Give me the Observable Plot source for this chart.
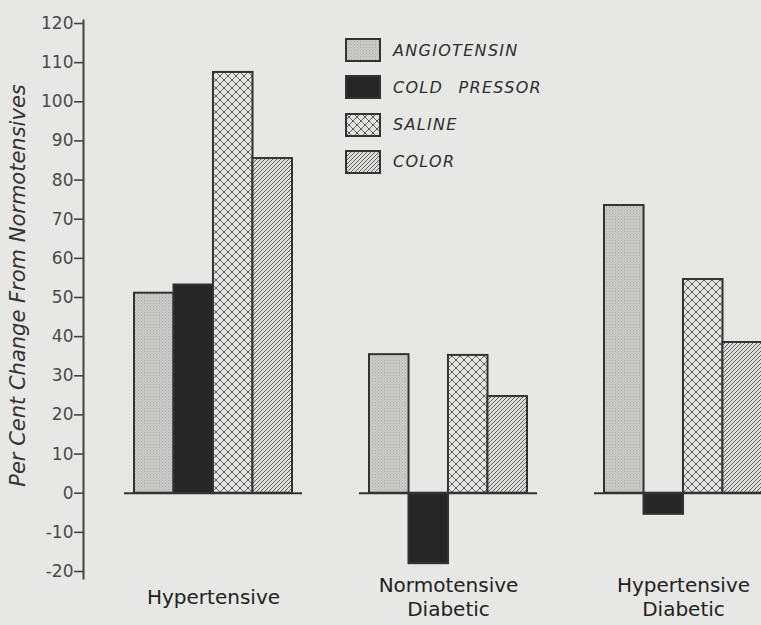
<!DOCTYPE html>
<html>
<head>
<meta charset="utf-8">
<script src="https://cdn.jsdelivr.net/npm/d3@7"></script>
<script src="https://cdn.jsdelivr.net/npm/@observablehq/plot@0.6"></script>
<style>
  body { margin: 0; background: #e7e7e5; }
  #wrap { position: relative; width: 761px; height: 625px; overflow: hidden; }
  #legend { position: absolute; left: 0; top: 0; font-family: "DejaVu Sans", sans-serif; font-style: italic; font-size: 16px; color: #2e2e2e; letter-spacing: 1.3px; word-spacing: 9px; }
  .row { position: absolute; left: 345px; display: flex; align-items: center; white-space: nowrap; }
  .row svg { display: block; margin-right: 12px; }
  g[aria-label="ytitle"] text { word-spacing: 7px; letter-spacing: 0.3px; }
</style>
</head>
<body>
<div id="wrap">
  <div id="chart"></div>
  <div id="legend"></div>
</div>
<script>
// ---- data ----
const groups = ["Hypertensive", "Normotensive\nDiabetic", "Hypertensive\nDiabetic"];
const seriesNames = ["ANGIOTENSIN", "COLD PRESSOR", "SALINE", "COLOR"];
const angiotensin = [51.1, 35.4, 73.5];
const coldPressor = [53.2, -18.0, -5.4];
const saline = [107.5, 35.2, 54.6];
const colorTest = [85.5, 24.7, 38.5];
const yTicks = [-20, -10, 0, 10, 20, 30, 40, 50, 60, 70, 80, 90, 100, 110, 120];
const yTitle = "Per Cent Change From Normotensives";

// ---- styles ----
const fills = ["url(#pat-ang)", "#262626", "url(#pat-sal)", "url(#pat-col)"];
const seriesValues = [angiotensin, coldPressor, saline, colorTest];

const xRange = [134, 762];
const padInner = 0.328;
const step = (xRange[1] - xRange[0]) / (groups.length - padInner);
const bw = step * (1 - padInner);
const n = seriesNames.length;

const barMarks = seriesValues.map((vals, i) =>
  Plot.barY(groups.map((g, j) => ({group: g, value: vals[j]})), {
    x: "group", y: "value",
    fill: fills[i], stroke: "#333", strokeWidth: 2,
    insetLeft: i * bw / n, insetRight: (n - 1 - i) * bw / n
  })
);

const plot = Plot.plot({
  width: 761, height: 625,
  marginLeft: 83, marginRight: 0, marginTop: 20, marginBottom: 47,
  style: {background: "transparent", fontFamily: "DejaVu Sans, sans-serif"},
  x: {type: "band", domain: groups, range: xRange, paddingInner: padInner, paddingOuter: 0, axis: null},
  y: {domain: [-20, 120], range: [571, 23], axis: null},
  marks: [
    Plot.frame({anchor: "left", stroke: "#444", strokeWidth: 2}),
    Plot.axisY({ticks: yTicks, tickSize: 9, tickPadding: 1, fontSize: 17, fill: "#4a4a4a", stroke: "#444", strokeWidth: 1.6, label: null, tickFormat: d => String(d)}),
    ...barMarks,
    Plot.tickY(groups, {x: d => d, y: () => 0, insetLeft: -10, insetRight: -10, stroke: "#333", strokeWidth: 2}),
    Plot.text(groups, {x: d => d, text: d => d, frameAnchor: "bottom", dy: 18, lineAnchor: "middle", fontSize: 20, lineHeight: 1.2, fill: "#222"}),
    Plot.text([yTitle], {text: d => d, frameAnchor: "left", textAnchor: "middle", lineAnchor: "middle", rotate: -90, dx: -65, dy: -14, fontSize: 21, fontStyle: "italic", fill: "#333", ariaLabel: "ytitle"})
  ]
});

// patterns
const defs = `
<defs>
  <pattern id="pat-ang" patternUnits="userSpaceOnUse" width="3" height="3">
    <rect width="3" height="3" fill="#cbcbca"/>
    <rect x="0" y="0" width="1" height="1" fill="#a9a9a8"/>
    <rect x="1.5" y="1.5" width="1" height="1" fill="#b3b3b2"/>
  </pattern>
  <pattern id="pat-sal" patternUnits="userSpaceOnUse" width="8" height="8">
    <rect width="8" height="8" fill="#e4e4e3"/>
    <path d="M0,0L8,8M8,0L0,8" stroke="#5a5a5a" stroke-width="0.9" fill="none"/>
    <circle cx="4" cy="4" r="1" fill="#555"/>
    <circle cx="0" cy="0" r="1" fill="#555"/><circle cx="8" cy="0" r="1" fill="#555"/>
    <circle cx="0" cy="8" r="1" fill="#555"/><circle cx="8" cy="8" r="1" fill="#555"/>
  </pattern>
  <pattern id="pat-col" patternUnits="userSpaceOnUse" width="4" height="4">
    <rect width="4" height="4" fill="#dcdcdb"/>
    <path d="M0,4L4,0M-1,1L1,-1M3,5L5,3" stroke="#555" stroke-width="0.9"/>
  </pattern>
</defs>`;
plot.insertAdjacentHTML("afterbegin", defs);
document.getElementById("chart").appendChild(plot);

// legend
const legend = document.getElementById("legend");
seriesNames.forEach((name, i) => {
  const row = document.createElement("div");
  row.className = "row";
  row.style.top = (38 + i * 37.3) + "px";
  row.innerHTML = `<svg width="36" height="24"><rect x="1" y="1" width="34" height="22" fill="${fills[i]}" stroke="#333" stroke-width="2"/></svg><span>${name}</span>`;
  legend.appendChild(row);
});
</script>
</body>
</html>
